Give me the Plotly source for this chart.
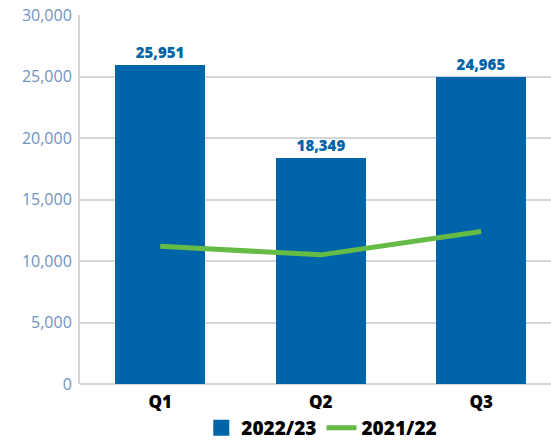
import plotly.graph_objects as go

BLUE = "#0064a8"
GREEN = "#66bb46"
TICK = "#6f93c0"
GRID = "#d3d6db"

quarters = ["Q1", "Q2", "Q3"]
fy_2223 = [25951, 18349, 24965]
fy_2122 = [11200, 10500, 12400]
y_ticks = [0, 5000, 10000, 15000, 20000, 25000, 30000]

fig = go.Figure()
fig.add_trace(go.Bar(
    x=[0, 1, 2], y=fy_2223, name="2022/23", showlegend=False,
    marker=dict(color=BLUE, line=dict(width=0)),
    width=0.56,
    text=[f"{v:,}" for v in fy_2223], textposition="outside",
    textfont=dict(family="Open Sans", size=15, color=BLUE, weight=800),
    cliponaxis=False,
))
# legend entry with a bigger square swatch
fig.add_trace(go.Scatter(
    x=[None], y=[None], name="2022/23", mode="markers",
    marker=dict(symbol="square", size=17, color=BLUE),
))
fig.add_trace(go.Scatter(
    x=[0, 1, 2], y=fy_2122, name="2021/22", mode="lines",
    line=dict(color=GREEN, width=5),
))

fig.update_layout(
    width=551, height=447,
    margin=dict(l=80, r=0, t=15, b=63),
    plot_bgcolor="white", paper_bgcolor="white",
    showlegend=True,
    legend=dict(orientation="h", x=0.584, xanchor="center", xref="container",
                y=0, yanchor="bottom", yref="container",
                font=dict(family="Open Sans", size=19, color="black", weight=800),
                itemwidth=30, traceorder="normal"),
    xaxis=dict(range=[-0.5, 2.435], tickvals=[0, 1, 2], ticktext=quarters,
               showgrid=False, zeroline=False, showline=False, ticks="",
               automargin=False, ticklabelstandoff=6,
               tickfont=dict(family="Open Sans", size=17, color="black", weight=800)),
    yaxis=dict(range=[0, 30000], tickvals=y_ticks, tickformat=",",
               showgrid=True, gridcolor=GRID, gridwidth=1.5,
               showline=True, linecolor=GRID, linewidth=2,
               zeroline=True, zerolinecolor=GRID, zerolinewidth=2,
               ticks="", ticklabelstandoff=3, automargin=False,
               tickfont=dict(family="Open Sans", size=16, color=TICK)),
    bargap=0,
)

fig.write_html("out.html", config={"displayModeBar": False},
               post_script="document.body.style.margin='0';")
